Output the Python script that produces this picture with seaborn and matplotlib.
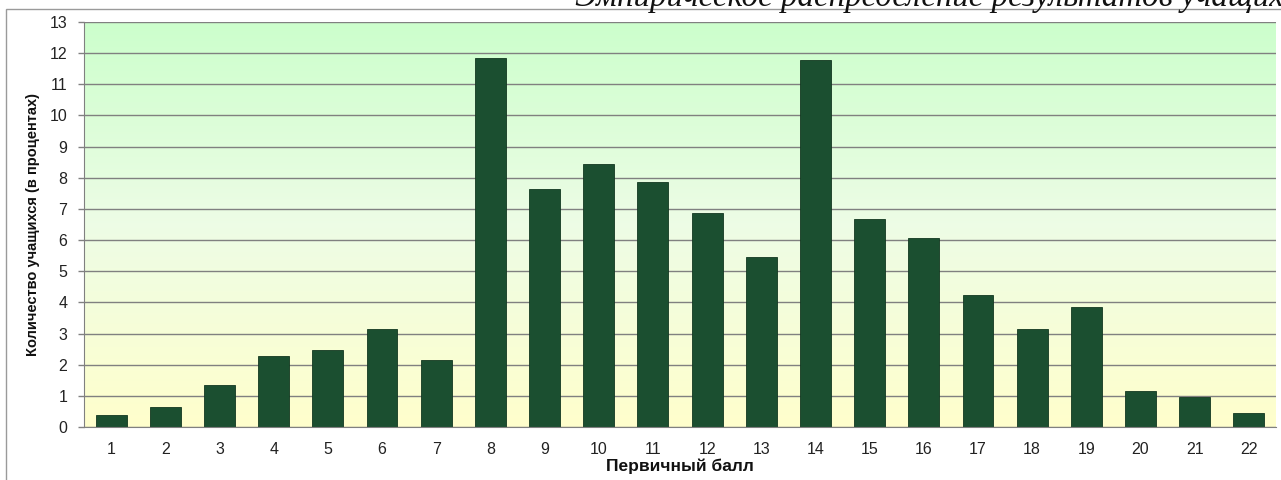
import numpy as np
import seaborn as sns
import matplotlib.pyplot as plt
from matplotlib.patches import Rectangle
from matplotlib.colors import LinearSegmentedColormap

# Данные: первичный балл и доля учащихся (%)
scores = [str(i) for i in range(1, 23)]
percents = [0.4, 0.65, 1.35, 2.27, 2.47, 3.15, 2.15, 11.86, 7.65, 8.45, 7.86,
            6.87, 5.45, 11.78, 6.67, 6.07, 4.25, 3.15, 3.86, 1.17, 0.97, 0.45]
yticks = list(range(0, 14))

title = "Эмпирическое распределение результатов учащихся"
xlabel = "Первичный балл"
ylabel = "Количество учащихся (в процентах)"

sns.set_style("white")
plt.rcParams['font.family'] = ['Liberation Sans', 'DejaVu Sans']

fig = plt.figure(figsize=(12.81, 4.80), dpi=100)
ax = fig.add_axes([84/1281, 1-427/480, (1276-84)/1281, (427-22)/480])

# рамка диаграммы
fig.patches.append(Rectangle((6/1281, -0.05), 1.2, 1-9/480+0.05, transform=fig.transFigure,
                             fill=False, edgecolor="#9a9a9a", linewidth=1.0))

# фон-градиент
cmap = LinearSegmentedColormap.from_list("bg", [(1.0, 1.0, 0.80), (0.93, 0.99, 0.90), (0.80, 1.0, 0.80)])
grad = np.linspace(0, 1, 256).reshape(-1, 1)
ax.imshow(grad, extent=(-0.5, 21.5, 0, 13), origin="lower", aspect="auto", cmap=cmap, zorder=-1)

sns.barplot(x=scores, y=percents, order=scores, color="#1b4f30", width=0.57,
            saturation=1, edgecolor="#123820", linewidth=0.6, ax=ax, zorder=2)

ax.set_xlim(-0.5, 21.5)
ax.set_ylim(0, 13)
ax.set_yticks(yticks)
ax.yaxis.grid(True, color="#808080", linewidth=1.0)
ax.set_axisbelow(True)
for g in ax.get_ygridlines():
    g.set_zorder(1)

ax.set_xticks(np.arange(-0.5, 22, 1), minor=True)
ax.tick_params(axis="x", which="major", length=0, pad=11, labelsize=11.5, labelcolor="#222222")
ax.tick_params(axis="x", which="minor", length=5, color="#808080", width=1, direction="out")
ax.tick_params(axis="y", length=4, color="#808080", width=1, direction="out", pad=8,
               labelsize=11.5, labelcolor="#222222", left=True)

for s in ["top", "right"]:
    ax.spines[s].set_visible(False)
ax.spines["left"].set_color("#808080")
ax.spines["bottom"].set_color("#808080")

ax.set_xlabel(xlabel, fontsize=12.5, fontweight="bold", labelpad=1, color="#111111")
ax.set_ylabel(ylabel, fontsize=10.5, fontweight="bold", labelpad=7, color="#111111")

fig.text(575/1281, 1-6/480, title, ha="left", va="baseline", fontsize=23.7,
         fontstyle="italic", family=["Liberation Serif", "DejaVu Serif"], color="#111111")

fig.savefig("out.png", dpi=100)
